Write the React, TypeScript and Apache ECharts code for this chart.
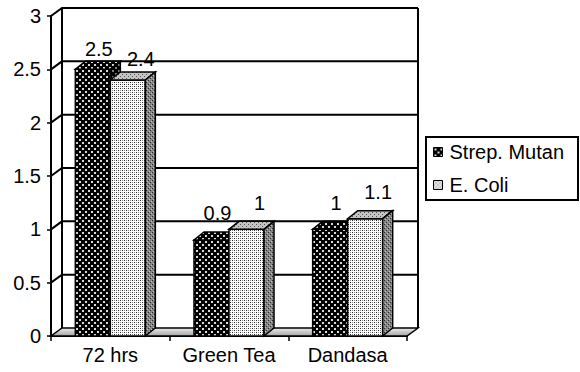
import React, { useEffect, useRef } from 'react';
import * as echarts from 'echarts';

// ---- data ----
const categories = ['72 hrs', 'Green Tea', 'Dandasa'];
const seriesNames = ['Strep. Mutan', 'E. Coli'];
const strepMutan = [2.5, 0.9, 1];
const eColi = [2.4, 1, 1.1];
const yTicks = [0, 0.5, 1, 1.5, 2, 2.5, 3];

// ---- look ----
const FONT = '"Liberation Sans", Arial, sans-serif';
const WALL_DX = 11;
const WALL_DY = -8;
const BAR_DX = 10;
const BAR_DY = -8;
const BAR_FRAC = 0.295; // bar width as a share of a category band
const LABEL_SHIFT = [6, 13]; // value labels sit a little right of each bar's front centre

type Dot = [number, number, number, number, string];

function makePattern(size: number, bg: string, dots: Dot[]) {
  const c = document.createElement('canvas');
  c.width = size;
  c.height = size;
  const ctx = c.getContext('2d')!;
  ctx.fillStyle = bg;
  ctx.fillRect(0, 0, size, size);
  for (const [x, y, w, h, col] of dots) {
    ctx.fillStyle = col;
    ctx.fillRect(x, y, w, h);
  }
  return { image: c, repeat: 'repeat' } as any;
}

export default function App() {
  const ref = useRef<HTMLDivElement>(null);

  useEffect(() => {
    if (!ref.current) return;
    const chart = echarts.init(ref.current, undefined, { renderer: 'svg' });

    const strepFront = makePattern(6, '#000', [
      [1, 1, 2, 2, '#d8d8d8'],
      [4, 4, 2, 2, '#d8d8d8'],
    ]);
    const strepSide = makePattern(6, '#000', [
      [1, 1, 2, 2, '#777'],
      [4, 4, 2, 2, '#777'],
    ]);
    const coliFront = makePattern(4, '#fff', [
      [0, 0, 1, 1, '#222'],
      [2, 2, 1, 1, '#222'],
      [0, 2, 1, 1, '#888'],
      [2, 0, 1, 1, '#888'],
    ]);
    const coliTop = makePattern(4, '#c4c4c4', [
      [0, 0, 1, 1, '#555'],
      [2, 2, 1, 1, '#555'],
    ]);
    const coliSide = makePattern(4, '#858585', [
      [0, 0, 1, 1, '#2a2a2a'],
      [2, 2, 1, 1, '#2a2a2a'],
      [1, 3, 1, 1, '#c0c0c0'],
      [3, 1, 1, 1, '#c0c0c0'],
    ]);

    const faces = [
      { front: strepFront, top: strepFront, side: strepSide },
      { front: coliFront, top: coliTop, side: coliSide },
    ];

    const stroke = { stroke: '#000', lineWidth: 1.5 };

    const barRenderer = (slot: number) => (params: any, api: any) => {
      const cat = api.value(0);
      const v = api.value(1);
      const band = api.size([1, 0])[0];
      const w = band * BAR_FRAC;
      const [cx, yTop] = api.coord([cat, v]);
      const yBase = api.coord([cat, 0])[1];
      const x0 = cx - w + slot * w;
      const x1 = x0 + w;
      const f = faces[slot];
      const lift = 25 - 0.04 * (yBase - yTop);
      return {
        type: 'group',
        children: [
          {
            type: 'rect',
            shape: { x: x0, y: yTop, width: w, height: yBase - yTop },
            style: { fill: f.front, ...stroke },
          },
          {
            type: 'polygon',
            shape: {
              points: [
                [x0, yTop],
                [x1, yTop],
                [x1 + BAR_DX, yTop + BAR_DY],
                [x0 + BAR_DX, yTop + BAR_DY],
              ],
            },
            style: { fill: f.top, ...stroke },
          },
          {
            type: 'polygon',
            shape: {
              points: [
                [x1, yTop],
                [x1 + BAR_DX, yTop + BAR_DY],
                [x1 + BAR_DX, yBase + BAR_DY],
                [x1, yBase],
              ],
            },
            style: { fill: f.side, ...stroke },
          },
          {
            type: 'text',
            z2: 100,
            style: {
              text: String(v),
              x: x0 + w / 2 + LABEL_SHIFT[slot],
              y: yTop - lift + 4,
              align: 'center',
              verticalAlign: 'bottom',
              fill: '#000',
              font: `20px ${FONT}`,
            },
          },
        ],
      };
    };

    const wallRenderer = (params: any, api: any) => {
      const v = api.value(1);
      const cs = params.coordSys;
      const xL = cs.x;
      const xR = cs.x + cs.width;
      const y = api.coord([0, v])[1];
      const yB = api.coord([0, 0])[1];
      const yT = api.coord([0, yTicks[yTicks.length - 1]])[1];
      const line = { stroke: '#000', lineWidth: 2, fill: 'none' };
      const children: any[] = [];
      if (v === 0) {
        children.push({
          type: 'polygon',
          shape: {
            points: [
              [xL, yB],
              [xR, yB],
              [xR + WALL_DX, yB + WALL_DY],
              [xL + WALL_DX, yB + WALL_DY],
            ],
          },
          style: {
            fill: new echarts.graphic.LinearGradient(0, 0, 0, 1, [
              { offset: 0, color: '#ececec' },
              { offset: 1, color: '#a4a4a4' },
            ]),
            stroke: '#000',
            lineWidth: 1.5,
          },
        });
        // back wall edges
        children.push({
          type: 'line',
          shape: { x1: xL + WALL_DX, y1: yT + WALL_DY, x2: xL + WALL_DX, y2: yB + WALL_DY },
          style: line,
        });
        children.push({
          type: 'line',
          shape: { x1: xR + WALL_DX, y1: yT + WALL_DY, x2: xR + WALL_DX, y2: yB + WALL_DY },
          style: line,
        });
      } else {
        children.push({
          type: 'polyline',
          shape: {
            points: [
              [xL, y],
              [xL + WALL_DX, y + WALL_DY],
              [xR + WALL_DX, y + WALL_DY],
            ],
          },
          style: line,
        });
      }
      return { type: 'group', children };
    };

    chart.setOption({
      animation: false,
      backgroundColor: '#fff',
      grid: { left: 51, right: 173, top: 16, bottom: 36 },
      legend: {
        orient: 'vertical',
        left: 426,
        top: 137,
        padding: [5, 14, 5, 7],
        itemGap: 13,
        itemWidth: 9,
        itemHeight: 9,
        icon: 'rect',
        borderColor: '#000',
        borderWidth: 2,
        selectedMode: false,
        itemStyle: { borderColor: '#000', borderWidth: 1 },
        textStyle: { fontSize: 20, color: '#000', fontFamily: FONT, padding: [0, 0, 0, 2] },
        data: seriesNames,
      },
      xAxis: {
        type: 'category',
        data: categories,
        axisLine: { lineStyle: { color: '#000', width: 2 } },
        axisTick: { show: true, length: 5, lineStyle: { color: '#000', width: 1.5 } },
        axisLabel: {
          fontSize: 20,
          color: '#000',
          fontFamily: FONT,
          margin: 9,
          interval: 0,
          hideOverlap: false,
        },
        splitLine: { show: false },
      },
      yAxis: {
        type: 'value',
        min: 0,
        max: 3,
        interval: 0.5,
        axisLine: { show: true, lineStyle: { color: '#000', width: 2 } },
        axisTick: { show: true, length: 4, lineStyle: { color: '#000', width: 1.5 } },
        axisLabel: { fontSize: 20, color: '#000', fontFamily: FONT, margin: 10 },
        splitLine: { show: false },
      },
      series: [
        {
          type: 'custom',
          name: 'walls',
          silent: true,
          clip: false,
          encode: { x: 0, y: 1 },
          data: yTicks.map((v) => [0, v]),
          renderItem: wallRenderer,
        },
        {
          type: 'custom',
          name: seriesNames[0],
          clip: false,
          encode: { x: 0, y: 1 },
          itemStyle: { color: strepFront },
          data: strepMutan.map((v, i) => [i, v]),
          renderItem: barRenderer(0),
        },
        {
          type: 'custom',
          name: seriesNames[1],
          clip: false,
          encode: { x: 0, y: 1 },
          itemStyle: { color: coliFront },
          data: eColi.map((v, i) => [i, v]),
          renderItem: barRenderer(1),
        },
      ],
    });

    return () => chart.dispose();
  }, []);

  return (
    <div
      ref={ref}
      style={{ position: 'absolute', left: 0, top: 0, width: 580, height: 372, background: '#fff' }}
    />
  );
}
